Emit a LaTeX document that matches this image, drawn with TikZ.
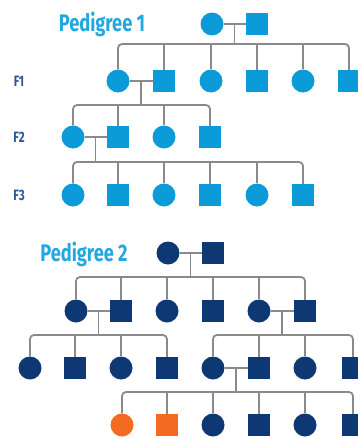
\documentclass[tikz,border=0pt]{standalone}
\usepackage{fontspec}
\newfontfamily\pedfont{Fira Sans}[FakeStretch=0.76]
\definecolor{lightped}{HTML}{0A9BD8}
\definecolor{titleblue}{HTML}{22A7E0}
\definecolor{darkped}{HTML}{0E3874}
\definecolor{genblue}{HTML}{2B5797}
\definecolor{affected}{HTML}{F26B21}
\definecolor{linegray}{HTML}{8A8A8A}
\tikzset{
  fem/.style={circle,fill=#1,minimum size=23pt,inner sep=0pt},
  fem/.default=lightped,
  mal/.style={rectangle,fill=#1,minimum size=22pt,inner sep=0pt},
  mal/.default=lightped,
  link/.style={draw=linegray,line width=1.8pt},
  sib/.style={link,rounded corners=4pt},
  pedtitle/.style={text=titleblue,font=\pedfont\bfseries\fontsize{24}{24}\selectfont},
  genlabel/.style={text=genblue,font=\pedfont\bfseries\fontsize{15}{15}\selectfont}
}
\begin{document}
\begin{tikzpicture}[x=1pt,y=-1pt]
	\useasboundingbox (0,0) rectangle (358,439);
	% pedigree 1
	\node[pedtitle] (t1) at (102,24) {Pedigree 1};
	\node[genlabel] (g1) at (19,81) {F1};
	\node[genlabel] (g2) at (19,137) {F2};
	\node[genlabel] (g3) at (19,195) {F3};
	\node[fem] (a0f) at (212,24) {};
	\node[mal] (a0m) at (257,24) {};
	\node[fem] (a1) at (118,81) {};
	\node[mal] (a2) at (164,81) {};
	\node[fem] (a3) at (211,81) {};
	\node[mal] (a4) at (257,81) {};
	\node[fem] (a5) at (303,81) {};
	\node[mal] (a6) at (349,81) {};
	\node[fem] (b1) at (73,137) {};
	\node[mal] (b2) at (118,137) {};
	\node[fem] (b3) at (164,137) {};
	\node[mal] (b4) at (210,137) {};
	\node[fem] (c1) at (73,195) {};
	\node[mal] (c2) at (118,195) {};
	\node[fem] (c3) at (164,195) {};
	\node[mal] (c4) at (210,195) {};
	\node[fem] (c5) at (257,195) {};
	\node[mal] (c6) at (303,195) {};
	\coordinate (a0x) at (234.5,24);
	\coordinate (a0s) at (234.5,44);
	\coordinate (a1x) at (141,81);
	\coordinate (a1s) at (141,105);
	\coordinate (b1x) at (95.5,137);
	\coordinate (b1s) at (95.5,162);
	\path[link] (a0f) -- (a0m);
	\path[link] (a0x) -- (a0s);
	\path[sib] (a1.north) |- (a0s) -| (a6.north);
	\path[link] (a2.north) -- (a2 |- a0s);
	\path[link] (a3.north) -- (a3 |- a0s);
	\path[link] (a4.north) -- (a4 |- a0s);
	\path[link] (a5.north) -- (a5 |- a0s);
	\path[link] (a1) -- (a2);
	\path[link] (a1x) -- (a1s);
	\path[sib] (b1.north) |- (a1s) -| (b4.north);
	\path[link] (b2.north) -- (b2 |- a1s);
	\path[link] (b3.north) -- (b3 |- a1s);
	\path[link] (b1) -- (b2);
	\path[link] (b1x) -- (b1s);
	\path[sib] (c1.north) |- (b1s) -| (c6.north);
	\path[link] (c2.north) -- (c2 |- b1s);
	\path[link] (c3.north) -- (c3 |- b1s);
	\path[link] (c4.north) -- (c4 |- b1s);
	\path[link] (c5.north) -- (c5 |- b1s);
	% pedigree 2
	\node[pedtitle] (t2) at (84,254) {Pedigree 2};
	\node[fem=darkped] (p0f) at (168,253) {};
	\node[mal=darkped] (p0m) at (213,253) {};
	\node[fem=darkped] (p1) at (76,311) {};
	\node[mal=darkped] (p2) at (121,311) {};
	\node[fem=darkped] (p3) at (167,311) {};
	\node[mal=darkped] (p4) at (213,311) {};
	\node[fem=darkped] (p5) at (259,311) {};
	\node[mal=darkped] (p6) at (305,311) {};
	\node[fem=darkped] (q1) at (30,368) {};
	\node[mal=darkped] (q2) at (75,368) {};
	\node[fem=darkped] (q3) at (121,368) {};
	\node[mal=darkped] (q4) at (167,368) {};
	\node[fem=darkped] (q5) at (213,368) {};
	\node[mal=darkped] (q6) at (259,368) {};
	\node[fem=darkped] (q7) at (305,368) {};
	\node[mal=darkped] (q8) at (353,368) {};
	\node[fem=affected] (r1) at (122,425) {};
	\node[mal=affected] (r2) at (167,425) {};
	\node[fem=darkped] (r3) at (213,425) {};
	\node[mal=darkped] (r4) at (259,425) {};
	\node[fem=darkped] (r5) at (305,425) {};
	\node[mal=darkped] (r6) at (353,425) {};
	\coordinate (p0x) at (190.5,253);
	\coordinate (p0s) at (190.5,277);
	\coordinate (p1x) at (98.5,311);
	\coordinate (p1s) at (98.5,335);
	\coordinate (p5x) at (282,311);
	\coordinate (p5s) at (282,335);
	\coordinate (q5x) at (236,368);
	\coordinate (q5s) at (236,392);
	\path[link] (p0f) -- (p0m);
	\path[link] (p0x) -- (p0s);
	\path[sib] (p1.north) |- (p0s) -| (p6.north);
	\path[link] (p2.north) -- (p2 |- p0s);
	\path[link] (p3.north) -- (p3 |- p0s);
	\path[link] (p4.north) -- (p4 |- p0s);
	\path[link] (p5.north) -- (p5 |- p0s);
	\path[link] (p1) -- (p2);
	\path[link] (p1x) -- (p1s);
	\path[sib] (q1.north) |- (p1s) -| (q4.north);
	\path[link] (q2.north) -- (q2 |- p1s);
	\path[link] (q3.north) -- (q3 |- p1s);
	\path[link] (p5) -- (p6);
	\path[link] (p5x) -- (p5s);
	\path[sib] (q5.north) |- (p5s) -| (q8.north);
	\path[link] (q6.north) -- (q6 |- p5s);
	\path[link] (q7.north) -- (q7 |- p5s);
	\path[link] (q5) -- (q6);
	\path[link] (q5x) -- (q5s);
	\path[sib] (r1.north) |- (q5s) -| (r6.north);
	\path[link] (r2.north) -- (r2 |- q5s);
	\path[link] (r3.north) -- (r3 |- q5s);
	\path[link] (r4.north) -- (r4 |- q5s);
	\path[link] (r5.north) -- (r5 |- q5s);
\end{tikzpicture}
\end{document}
